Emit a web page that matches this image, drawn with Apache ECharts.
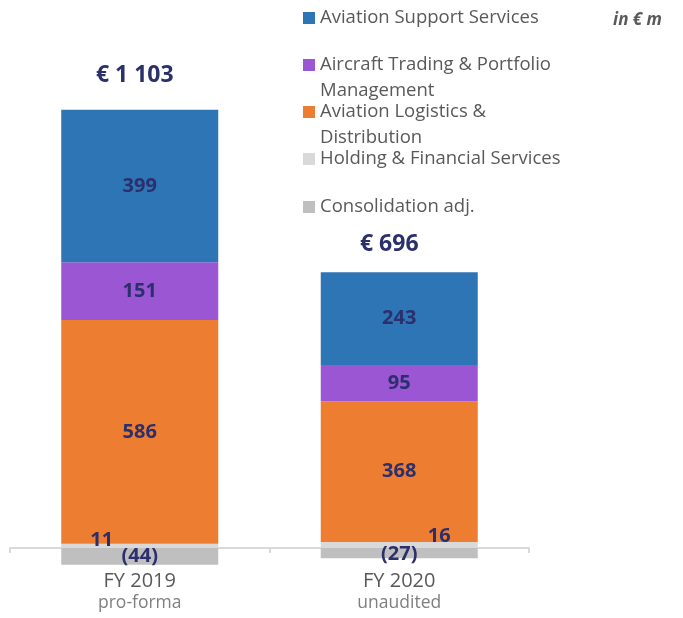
<!DOCTYPE html>
<html>
<head>
<meta charset="utf-8">
<script src="https://cdn.jsdelivr.net/npm/echarts@6/dist/echarts.min.js"></script>
<style>
html,body{margin:0;padding:0;background:#fff;}
#chart{width:683px;height:618px;}
</style>
</head>
<body>
<div id="chart"></div>
<script>
const categories = ['FY 2019', 'FY 2020'];
const subLabels = ['pro-forma', 'unaudited'];
const holding = [11, 16];
const logistics = [586, 368];
const trading = [151, 95];
const support = [399, 243];
const consolidation = [-44, -27];
const totals = [1103, 696];
const seriesNames = ['Aviation Support Services', 'Aircraft Trading & Portfolio Management', 'Aviation Logistics & Distribution', 'Holding & Financial Services', 'Consolidation adj.'];
const legendLabels = ['Aviation Support Services', 'Aircraft Trading & Portfolio\nManagement', 'Aviation Logistics &\nDistribution', 'Holding & Financial Services', 'Consolidation adj.'];
const unitLabel = 'in € m';

const FONT = 'Open Sans';
const LABEL_COLOR = '#2B2F6B';
const colors = ['#2E75B6', '#9B57D3', '#ED7D31', '#D9D9D9', '#BFBFBF'];

function fmtTotal(v) {
  return '€ ' + String(v).replace(/\B(?=(\d{3})+(?!\d))/g, ' ');
}
function fmtVal(v) {
  return v < 0 ? '(' + Math.abs(v) + ')' : String(v);
}
const baseLabel = {
  show: true, position: 'inside', color: LABEL_COLOR, fontFamily: FONT,
  fontWeight: 'bold', fontSize: 20,
  formatter: p => fmtVal(p.value)
};
function barSeries(name, data, color, offsets) {
  return {
    name: name, type: 'bar', stack: 'seg', barWidth: 157,
    itemStyle: { color: color },
    label: baseLabel,
    data: data.map((v, i) => offsets ? { value: v, label: { offset: offsets[i] } } : v)
  };
}
const posSum = categories.map((c, i) => holding[i] + logistics[i] + trading[i] + support[i]);

const legendIconY = [18, 65, 112, 159, 207];
const legends = seriesNames.map((n, i) => {
  const twoLine = legendLabels[i].indexOf('\n') >= 0;
  return {
    data: [n], orient: 'vertical', left: 303,
    top: legendIconY[i] - (twoLine ? 39 : 13),
    padding: 0, itemWidth: 12, itemHeight: 12, icon: 'rect',
    selectedMode: false,
    formatter: () => (twoLine ? '\n' : '') + legendLabels[i],
    textStyle: { fontFamily: FONT, fontSize: 18.5, color: '#595959', lineHeight: 26 }
  };
});

const chart = echarts.init(document.getElementById('chart'), null, { renderer: 'canvas' });
chart.setOption({
  animation: false,
  title: {
    text: unitLabel, right: 21, top: 12, padding: 0,
    textStyle: { fontFamily: FONT, fontStyle: 'italic', fontWeight: 'bold', fontSize: 17, color: '#595959' }
  },
  legend: legends,
  grid: { left: 10, right: 154, top: 89.6, bottom: 50.9, containLabel: false, outerBoundsMode: 'none' },
  xAxis: {
    type: 'category', data: categories,
    axisLine: { onZero: true, lineStyle: { color: '#D9D9D9', width: 2 } },
    axisTick: { show: true, length: 5, lineStyle: { color: '#D9D9D9', width: 2 } },
    axisLabel: {
      interval: 0, margin: 2,
      formatter: (v, i) => '{a|' + v + '}\n{b|' + subLabels[i] + '}',
      rich: {
        a: { fontFamily: FONT, fontSize: 20, color: '#595959', lineHeight: 24 },
        b: { fontFamily: FONT, fontSize: 17.5, color: '#7F7F7F', lineHeight: 20 }
      }
    }
  },
  yAxis: { type: 'value', min: -50, max: 1200, show: false, splitLine: { show: false } },
  series: [
    barSeries(seriesNames[3], holding, colors[3], [[-38, -6], [40, -9]]),
    barSeries(seriesNames[2], logistics, colors[2]),
    barSeries(seriesNames[1], trading, colors[1]),
    barSeries(seriesNames[0], support, colors[0]),
    barSeries(seriesNames[4], consolidation, colors[4], [[0, 0], [0, 1]]),
    {
      name: 'Total', type: 'scatter', symbolSize: 0, silent: true,
      itemStyle: { opacity: 1 },
      data: posSum.map((v, i) => ({
        value: v,
        label: { distance: i === 0 ? 22.5 : 16.5, offset: i === 0 ? [-5, 0] : [-10, 0] }
      })),
      label: {
        show: true, position: 'top', color: LABEL_COLOR, opacity: 1, fontFamily: FONT,
        fontWeight: 'bold', fontSize: 23,
        formatter: p => fmtTotal(totals[p.dataIndex])
      }
    }
  ]
});
</script>
</body>
</html>
